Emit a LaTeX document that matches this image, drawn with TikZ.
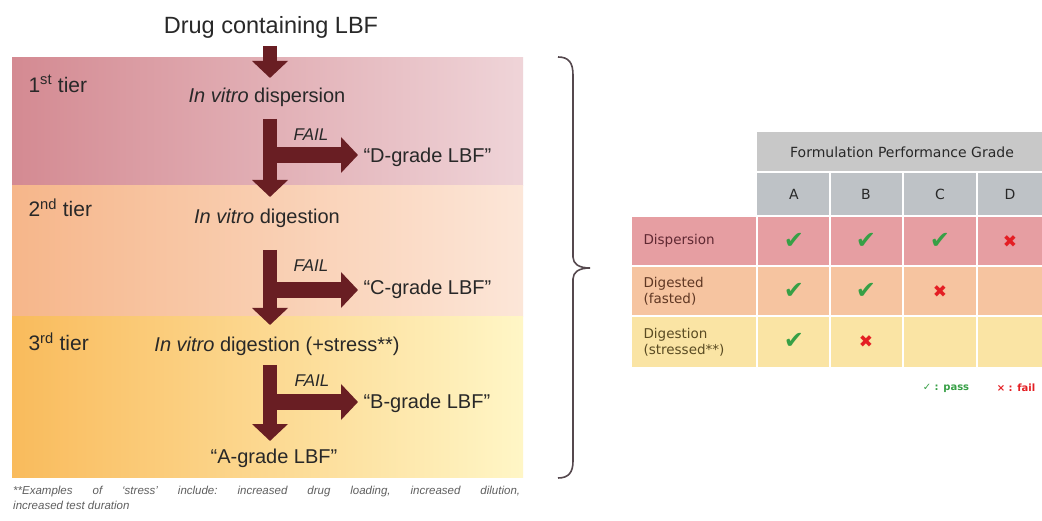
\documentclass[tikz,border=0pt]{standalone}
\usepackage{fontspec}
\setmainfont{Liberation Sans}
\newfontfamily\dejavu{DejaVu Sans}
\usetikzlibrary{arrows.meta}
\definecolor{arrowc}{RGB}{105,30,35}
\definecolor{txt}{RGB}{40,40,40}
\definecolor{bal}{RGB}{212,138,146}
\definecolor{bar}{RGB}{239,212,216}
\definecolor{bbl}{RGB}{246,182,138}
\definecolor{bbr}{RGB}{252,230,216}
\definecolor{bcl}{RGB}{249,187,92}
\definecolor{bcr}{RGB}{255,246,198}
\definecolor{hdr}{RGB}{200,200,200}
\definecolor{letrow}{RGB}{190,194,198}
\definecolor{rowa}{RGB}{230,158,162}
\definecolor{rowb}{RGB}{246,196,160}
\definecolor{rowc}{RGB}{250,228,164}
\definecolor{rla}{RGB}{95,40,50}
\definecolor{rlb}{RGB}{95,55,35}
\definecolor{rlc}{RGB}{90,75,35}
\definecolor{okc}{RGB}{55,160,70}
\definecolor{noc}{RGB}{228,30,35}
\definecolor{bracec}{RGB}{85,72,78}
\definecolor{footc}{RGB}{95,95,95}
\begin{document}
\begin{tikzpicture}[x=1pt,y=-1pt,
  titlef/.style={font=\fontsize{23.5}{28}\selectfont, text=txt},
  tierf/.style={anchor=west, font=\fontsize{21}{25}\selectfont, text=txt},
  bandf/.style={font=\fontsize{20}{24}\selectfont, text=txt},
  gradef/.style={anchor=west, font=\fontsize{20}{24}\selectfont, text=txt},
  failf/.style={font=\fontsize{17}{20}\selectfont\itshape, text=txt},
  vshaft/.style={draw=arrowc, line width=14pt, -{Triangle[length=17pt,width=35pt]}},
  hshaft/.style={draw=arrowc, line width=16pt, -{Triangle[length=17pt,width=35pt]}, shorten >=2pt},
  cellsep/.style={draw=white, line width=2pt},
  tabf/.style={font=\dejavu\fontsize{14}{17}\selectfont, text=txt},
  rowlbl/.style={anchor=west, align=left, font=\dejavu\fontsize{13.5}{16}\selectfont},
  chk/.style={font=\dejavu\fontsize{24}{26}\selectfont, text=okc},
  crs/.style={font=\dejavu\fontsize{17}{20}\selectfont, text=noc},
  brace/.style={draw=bracec, line width=1.6pt},
  foot/.style={anchor=north west, text width=507pt, align=justify, inner sep=0pt,
    font=\fontsize{11.5}{15}\selectfont\itshape\frenchspacing, text=footc}
]
\useasboundingbox (0,0) rectangle (1042,521);
\fill[white] (0,0) rectangle (1042,521);

% tier bands
\shade[left color=bal, right color=bar] (12,58) rectangle (523,186);
\shade[left color=bbl, right color=bbr] (12,186) rectangle (523,317);
\shade[left color=bcl, right color=bcr] (12,317) rectangle (523,477);

% texts
\node[titlef] (title) at (271,27) {Drug containing LBF};
\node[tierf] (t1) at (25,84) {1\textsuperscript{st} tier};
\node[tierf] (t2) at (25,208) {2\textsuperscript{nd} tier};
\node[tierf] (t3) at (25,342) {3\textsuperscript{rd} tier};
\node[bandf] (disp) at (267,97) {\textit{In vitro} dispersion};
\node[bandf] (dig) at (267,218) {\textit{In vitro} digestion};
\node[bandf] (digs) at (277,346) {\textit{In vitro} digestion (+stress**)};
\node[bandf] (agr) at (274,458) {“A-grade LBF”};
\node[gradef] (dgr) at (360,157) {“D-grade LBF”};
\node[gradef] (cgr) at (360,289) {“C-grade LBF”};
\node[gradef] (bgr) at (360,403) {“B-grade LBF”};
\node[failf] (f1) at (311,135) {FAIL};
\node[failf] (f2) at (311,266) {FAIL};
\node[failf] (f3) at (312,381) {FAIL};

% arrows
\coordinate (a1s) at (270,46);  \coordinate (a1e) at (270,78);
\coordinate (a2s) at (270,119); \coordinate (a2e) at (270,197);
\coordinate (a3s) at (270,250); \coordinate (a3e) at (270,325);
\coordinate (a4s) at (270,365); \coordinate (a4e) at (270,441);
\coordinate (b2s) at (270,155); \coordinate (b3s) at (270,290); \coordinate (b4s) at (270,402);
\draw[vshaft] (a1s) -- (a1e);
\draw[vshaft] (a2s) -- (a2e);
\draw[vshaft] (a3s) -- (a3e);
\draw[vshaft] (a4s) -- (a4e);
\draw[hshaft] (b2s) -- (b2s -| dgr.west);
\draw[hshaft] (b3s) -- (b3s -| cgr.west);
\draw[hshaft] (b4s) -- (b4s -| bgr.west);

% footnote
\node[foot] (fn) at (13,486) {**Examples of ‘stress’ include: increased drug loading, increased dilution,\linebreak increased test duration};

% brace
\draw[brace] (558,57) .. controls (569,57) and (573,63) .. (573,75) -- (573,257)
  .. controls (573,264) and (579,268) .. (590,268)
  .. controls (579,268) and (573,272) .. (573,279) -- (573,461)
  .. controls (573,472) and (569,478) .. (558,478);

% table
\fill[hdr] (757,132) rectangle (1042,172);
\fill[letrow] (757,172) rectangle (1042,216);
\fill[rowa] (632,216) rectangle (1042,266);
\fill[rowb] (632,266) rectangle (1042,316);
\fill[rowc] (632,316) rectangle (1042,367);
\draw[cellsep] (757,172) -- (1042,172);
\draw[cellsep] (632,216) -- (1042,216);
\draw[cellsep] (632,266) -- (1042,266);
\draw[cellsep] (632,316) -- (1042,316);
\draw[cellsep] (757,216) -- (757,367);
\foreach \xx in {830,903,977} \draw[cellsep] (\xx,172) -- (\xx,367);

\node[tabf] (hd) at (902,152) {Formulation Performance Grade};
\node[tabf] (ga) at (794,194) {A};
\node[tabf] (gb) at (866,194) {B};
\node[tabf] (gc) at (940,194) {C};
\node[tabf] (gd) at (1010,194) {D};
\node[rowlbl, text=rla] (ra) at (640,241) {Dispersion};
\node[rowlbl, text=rlb] (rb) at (640,291) {Digested\\(fasted)};
\node[rowlbl, text=rlc] (rc) at (640,342) {Digestion\\(stressed**)};

\node[chk] (c11) at (794,241) {✔};
\node[chk] (c12) at (866,241) {✔};
\node[chk] (c13) at (940,241) {✔};
\node[crs] (c14) at (1010,242) {✖};
\node[chk] (c21) at (794,291) {✔};
\node[chk] (c22) at (866,291) {✔};
\node[crs] (c23) at (940,292) {✖};
\node[chk] (c31) at (794,341) {✔};
\node[crs] (c32) at (866,342) {✖};

% legend
\node[font=\dejavu\bfseries\fontsize{10}{12}\selectfont, text=okc] (lp) at (946,388) {✓ : pass};
\node[font=\dejavu\bfseries\fontsize{10}{12}\selectfont, text=noc] (lf) at (1016,388) {× : fail};
\end{tikzpicture}
\end{document}
